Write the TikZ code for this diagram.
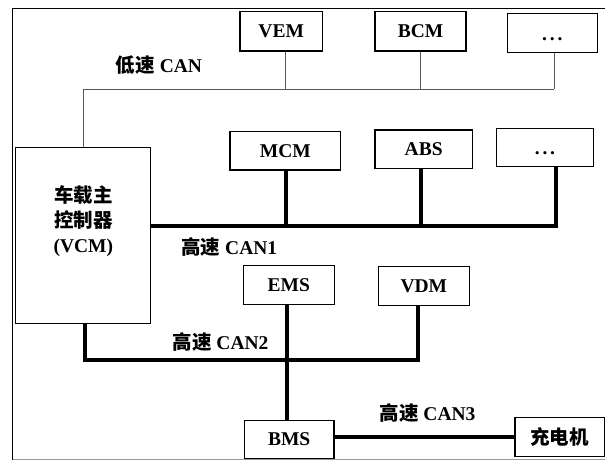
\documentclass[tikz,border=0pt]{standalone}
\usepackage{fontspec}
\setmainfont{Liberation Serif}
\newfontfamily\cjk{Noto Sans CJK SC}
\newcommand{\mydots}{\vphantom{M}\raisebox{-2pt}{.\hspace{2.8pt}.\hspace{2.8pt}.}}
\begin{document}
\begin{tikzpicture}[x=1pt,y=-1pt,
  box/.style={draw, line width=1.4pt, inner sep=0pt, fill=white,
    font=\bfseries\fontsize{19.5}{22}\selectfont},
  lbl/.style={inner sep=1pt, font=\bfseries\fontsize{19.5}{22}\selectfont},
  thinbus/.style={line width=0.9pt, draw=black!65},
  thickbus/.style={line width=4pt}]
\useasboundingbox (0,0) rectangle (605,461);
\draw[line width=0.8pt] (612,8.3) -- (12.7,8.3) -- (12.7,459.5);
\draw[line width=0.8pt, draw=black!40] (12.7,459.5) -- (612,459.5);
% boxes
\node[box, minimum width=82.3, minimum height=39.3] (vem) at (281.2,31.3) {VEM};
\node[box, minimum width=91, minimum height=39.3] (bcm) at (420.5,31.3) {BCM};
\node[box, minimum width=90, minimum height=39.4] (dotsA) at (552.3,33) {\mydots};
\node[box, minimum width=135, minimum height=175.6] (vcm) at (83.2,235.5) {};
\node[lbl, align=center, font=\bfseries\fontsize{19.5}{25.3}\selectfont] (vcmt) at (83.3,221) {{\cjk\bfseries 车载主}\\{\cjk\bfseries 控制器}\\(VCM)};
\node[box, minimum width=110.7, minimum height=38.3] (mcm) at (285.3,150.8) {MCM};
\node[box, minimum width=97.3, minimum height=38.5] (abs) at (423.7,149.2) {ABS};
\node[box, minimum width=96.6, minimum height=38.4] (dotsB) at (545,147.5) {\mydots};
\node[box, minimum width=91, minimum height=38.6] (ems) at (288.8,285) {EMS};
\node[box, minimum width=91, minimum height=39] (vdm) at (423.8,286.2) {VDM};
\node[box, minimum width=89.7, minimum height=37.8] (bms) at (289.2,439.6) {BMS};
\node[box, minimum width=89.3, minimum height=39.4] (chg) at (559.7,437) {\cjk\bfseries 充电机};
% labels
\node[lbl] (l0) at (159,65.5) {{\cjk\bfseries 低速} CAN};
\node[lbl] (l1) at (229.3,247.3) {{\cjk\bfseries 高速} CAN1};
\node[lbl] (l2) at (220.5,341.7) {{\cjk\bfseries 高速} CAN2};
% low speed CAN
\coordinate (lowL) at (83.3,89.3);
\coordinate (lowR) at (554,89.3);
\coordinate (dv) at (285.7,89.3);
\coordinate (db) at (420.7,89.3);
\draw[thinbus] (vcm.north -| lowL) -- (lowL) -- (lowR);
\draw[thinbus] (dotsA.south -| lowR) -- (lowR);
\draw[thinbus] (vem.south -| dv) -- (dv);
\draw[thinbus] (bcm.south -| db) -- (db);
% CAN1
\coordinate (c1R) at (555.7,226);
\coordinate (c1a) at (285.7,226);
\coordinate (c1b) at (420.7,226);
\draw[thickbus] (c1R -| vcm.east) -- ([xshift=2pt]c1R);
\draw[thickbus] (dotsB.south -| c1R) -- (c1R);
\draw[thickbus] (mcm.south -| c1a) -- (c1a);
\draw[thickbus] (abs.south -| c1b) -- (c1b);
% CAN2
\coordinate (c2L) at (85,360);
\coordinate (c2R) at (418,360);
\coordinate (c2e) at (287.3,360);
\draw[thickbus] (vcm.south -| c2L) -- (c2L) -- (c2R) -- (vdm.south -| c2R);
\draw[thickbus] (ems.south -| c2e) -- (bms.north -| c2e);
% CAN3
\coordinate (c3) at (515,437.3);
\draw[thickbus] (bms.east |- c3) -- (chg.west |- c3);
\node[lbl, fill=white] (l3) at (427.5,413.3) {{\cjk\bfseries 高速} CAN3};
\end{tikzpicture}
\end{document}
